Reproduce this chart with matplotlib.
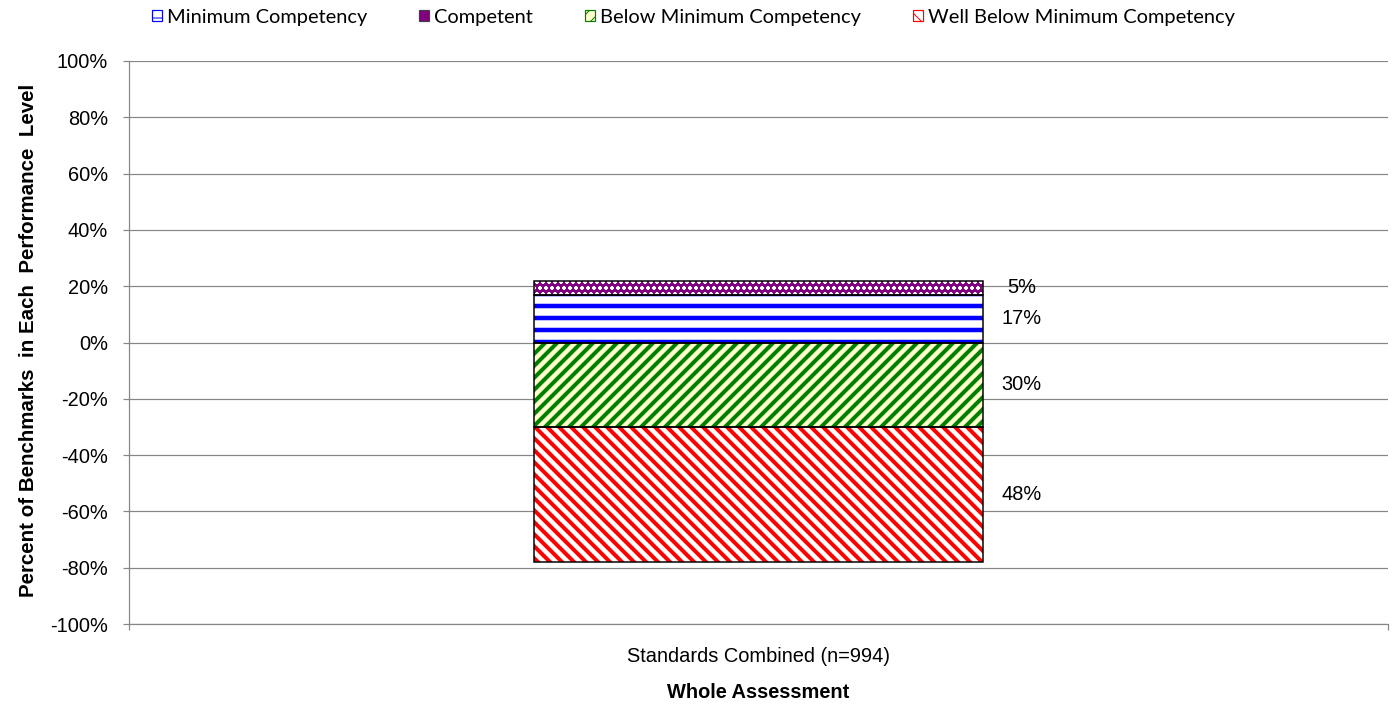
import matplotlib
matplotlib.use("Agg")
from matplotlib import pyplot as plt
from matplotlib import font_manager
from matplotlib.patches import Patch
import numpy as np

# Data
categories = ["Standards Combined (n=994)"]
minimum = np.array([17])
competent = np.array([5])
below = np.array([30])
well_below = np.array([48])

legend_labels = ["Minimum Competency", "Competent", "Below Minimum Competency",
                 "Well Below Minimum Competency"]

DPI = 72
plt.rcParams["font.family"] = ["Liberation Sans", "DejaVu Sans"]

# narrow font for the legend if it is there, else Lato
installed = {f.name for f in font_manager.fontManager.ttflist}
if "Liberation Sans Narrow" in installed:
    leg_prop = {"family": "Liberation Sans Narrow", "size": 24}
else:
    leg_prop = {"family": "Lato", "size": 20}

fig = plt.figure(figsize=(1393 / DPI, 711 / DPI), dpi=DPI)
ax = fig.add_axes([129 / 1393, 1 - 624 / 711, 1259 / 1393, 563 / 711])

x = np.arange(len(categories))
w = 1.0
grey = "#868686"


def hatched_bar(bottom, height, face, hcolor, hatch, hlw):
    # hatch drawn in the edge colour, black outline drawn separately
    with plt.rc_context({"hatch.linewidth": hlw}):
        bars = ax.bar(x, height, w, bottom=bottom, color=face, edgecolor=hcolor,
                      hatch=hatch, linewidth=0, zorder=3)
    for b in bars:
        if hasattr(b, "set_hatch_linewidth"):
            b.set_hatch_linewidth(hlw)
    ax.bar(x, height, w, bottom=bottom, fill=False, edgecolor="black",
           linewidth=1.5, zorder=4)
    return bars


styles = [("white", "#0000FF", "-", 4.5),
          ("#800080", "white", "oo", 1.0),
          ("#FFFFCC", "#008000", "//", 4.0),
          ("white", "#FF0000", "\\\\", 4.0)]

hatched_bar(0, minimum, *styles[0])
hatched_bar(minimum, competent, *styles[1])
hatched_bar(0, -below, *styles[2])
hatched_bar(-below, -well_below, *styles[3])

# value labels to the right of the bar
segs = [(minimum + competent / 2, competent), (minimum / 2, minimum),
        (-below / 2, below), (-below - well_below / 2, well_below)]
for yc, v in segs:
    for xi, yi, vi in zip(x, yc, v):
        ax.annotate(f"{vi}%", xy=(xi + w / 2, yi), xytext=(38, 0),
                    textcoords="offset points", ha="center", va="center",
                    fontsize=20, zorder=5)

ax.set_xlim(-1.4, 1.4)
ax.set_ylim(-100, 100)
ax.set_yticks(np.arange(-100, 101, 20))
ax.set_yticklabels([f"{v}%" for v in range(-100, 101, 20)], fontsize=20)
ax.set_xticks(x)
ax.set_xticklabels(categories, fontsize=20)
ax.tick_params(axis="x", which="major", length=0, pad=23)
ax.set_xticks([-1.4, 1.4], minor=True)
ax.tick_params(axis="x", which="minor", length=6, color=grey, width=1.2)
ax.tick_params(axis="y", length=6, color=grey, width=1.2, pad=15)

ax.yaxis.grid(True, color=grey, linewidth=1.2, zorder=0)
ax.set_axisbelow(True)
for s in ["top", "right"]:
    ax.spines[s].set_visible(False)
for s in ["left", "bottom"]:
    ax.spines[s].set_color(grey)
    ax.spines[s].set_linewidth(1.2)

fig.text(29 / 1393, 1 - 340 / 711,
         "Percent of Benchmarks  in Each  Performance  Level",
         rotation=90, ha="center", va="center", fontsize=20.5, fontweight="bold")
ax.set_xlabel("Whole Assessment", fontsize=20, fontweight="bold")
ax.xaxis.set_label_coords(0.5, (624 - 693) / 563)
ax.xaxis.label.set_va("center")

handles = [Patch(facecolor=f, edgecolor=hc, hatch=hh, linewidth=1.2)
           for f, hc, hh, _ in styles]
handles[1] = Patch(facecolor="#800080", edgecolor="#404040", linewidth=1.2)
fig.legend(handles, legend_labels, loc="center left", ncol=4,
           bbox_to_anchor=(152 / 1393, 1 - 17 / 711), frameon=False,
           prop=leg_prop, handlelength=0.5, handleheight=0.5,
           handletextpad=0.25, columnspacing=2.6, borderpad=0, borderaxespad=0)

fig.savefig("out.png", dpi=DPI)
